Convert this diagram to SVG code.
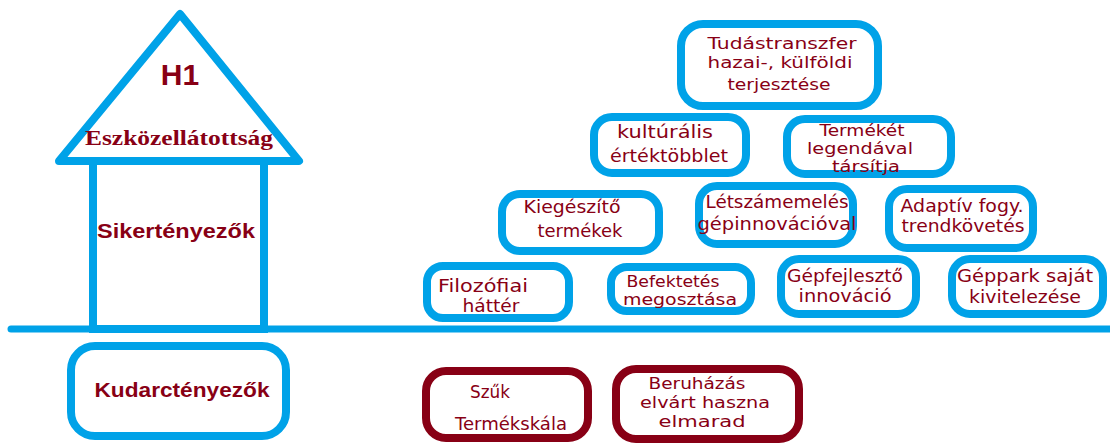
<svg xmlns="http://www.w3.org/2000/svg" width="1110" height="447" viewBox="0 0 1110 447">
<style>
.blue{fill:#ffffff;stroke:#00a2e8;stroke-width:8}
.red{fill:#ffffff;stroke:#880015;stroke-width:8}
.lbl{font-family:"DejaVu Sans",Verdana,sans-serif;fill:#880015;text-anchor:middle}
.big{font-family:"Liberation Sans",Arial,sans-serif;font-weight:bold;fill:#880015;text-anchor:middle}
.ser{font-family:"Liberation Serif","Times New Roman",serif;font-weight:bold;fill:#880015;text-anchor:middle}
</style>
<rect width="1110" height="447" fill="#ffffff"/>
<g id="ground">
<line x1="11" y1="329" x2="1110" y2="329" stroke="#00a2e8" stroke-width="7" stroke-linecap="round"/>
</g>
<g id="house">
<rect class="blue" x="93" y="161" width="171" height="168" fill="none"/>
<polygon class="blue" points="59,161 180,14 299,161" stroke-linejoin="round"/>
<text class="big" x="180" y="85" font-size="30">H1</text>
<text class="ser" x="179" y="145" font-size="21" textLength="188" lengthAdjust="spacingAndGlyphs">Eszközellátottság</text>
<text class="big" x="176" y="238" font-size="21" textLength="158" lengthAdjust="spacingAndGlyphs">Sikertényezők</text>
</g>
<g id="kudarc">
<rect class="blue" x="71" y="346" width="215" height="90" rx="24"/>
<text class="big" x="182" y="397" font-size="21" textLength="175" lengthAdjust="spacingAndGlyphs">Kudarctényezők</text>
</g>
<g id="tudastranszfer">
<rect class="blue" x="681" y="24" width="197" height="82" rx="22"/>
<text class="lbl" font-size="16" x="782" y="49" textLength="149" lengthAdjust="spacingAndGlyphs">Tudástranszfer</text>
<text class="lbl" font-size="16" x="780" y="68" textLength="145" lengthAdjust="spacingAndGlyphs">hazai-, külföldi</text>
<text class="lbl" font-size="16" x="779" y="90" textLength="103" lengthAdjust="spacingAndGlyphs">terjesztése</text>
</g>
<g id="kulturalis">
<rect class="blue" x="594" y="117" width="152" height="56" rx="18"/>
<text class="lbl" font-size="18" x="665" y="138" textLength="96" lengthAdjust="spacingAndGlyphs">kultúrális</text>
<text class="lbl" font-size="18" x="669" y="162" textLength="118" lengthAdjust="spacingAndGlyphs">értéktöbblet</text>
</g>
<g id="termeket">
<rect class="blue" x="787" y="119" width="164" height="55" rx="18"/>
<text class="lbl" font-size="15" x="862" y="136" textLength="85" lengthAdjust="spacingAndGlyphs">Termékét</text>
<text class="lbl" font-size="15" x="860" y="154" textLength="106" lengthAdjust="spacingAndGlyphs">legendával</text>
<text class="lbl" font-size="15" x="866" y="172" textLength="68" lengthAdjust="spacingAndGlyphs">társítja</text>
</g>
<g id="kiegeszito">
<rect class="blue" x="502" y="194" width="157" height="57" rx="18"/>
<text class="lbl" font-size="18" x="572" y="213" textLength="97" lengthAdjust="spacingAndGlyphs">Kiegészítő</text>
<text class="lbl" font-size="18" x="580" y="237" textLength="85" lengthAdjust="spacingAndGlyphs">termékek</text>
</g>
<g id="letszam">
<rect class="blue" x="699" y="186" width="154" height="58" rx="18"/>
<text class="lbl" font-size="17" x="777" y="208" textLength="143" lengthAdjust="spacingAndGlyphs">Létszámemelés</text>
<text class="lbl" font-size="17" x="777" y="230" textLength="159" lengthAdjust="spacingAndGlyphs">gépinnovációval</text>
</g>
<g id="adaptiv">
<rect class="blue" x="889" y="189" width="144" height="59" rx="18"/>
<text class="lbl" font-size="17" x="962" y="212" textLength="123" lengthAdjust="spacingAndGlyphs">Adaptív fogy.</text>
<text class="lbl" font-size="17" x="963" y="232" textLength="123" lengthAdjust="spacingAndGlyphs">trendkövetés</text>
</g>
<g id="filozofiai">
<rect class="blue" x="427" y="266" width="142" height="52" rx="16"/>
<text class="lbl" font-size="17" x="483" y="292" textLength="90" lengthAdjust="spacingAndGlyphs">Filozófiai</text>
<text class="lbl" font-size="17" x="491" y="312" textLength="57" lengthAdjust="spacingAndGlyphs">háttér</text>
</g>
<g id="befektetes">
<rect class="blue" x="611" y="267" width="140" height="44" rx="16"/>
<text class="lbl" font-size="15" x="673" y="287" textLength="93" lengthAdjust="spacingAndGlyphs">Befektetés</text>
<text class="lbl" font-size="15" x="680" y="305" textLength="114" lengthAdjust="spacingAndGlyphs">megosztása</text>
</g>
<g id="gepfejleszto">
<rect class="blue" x="781" y="259" width="135" height="55" rx="18"/>
<text class="lbl" font-size="17" x="845" y="282" textLength="116" lengthAdjust="spacingAndGlyphs">Gépfejlesztő</text>
<text class="lbl" font-size="17" x="845" y="302" textLength="93" lengthAdjust="spacingAndGlyphs">innováció</text>
</g>
<g id="geppark">
<rect class="blue" x="952" y="259" width="151" height="55" rx="18"/>
<text class="lbl" font-size="17" x="1025" y="282" textLength="136" lengthAdjust="spacingAndGlyphs">Géppark saját</text>
<text class="lbl" font-size="17" x="1025" y="303" textLength="112" lengthAdjust="spacingAndGlyphs">kivitelezése</text>
</g>
<g id="szuk">
<rect class="red" x="426" y="371" width="162" height="67" rx="20"/>
<text class="lbl" font-size="18" x="490" y="398" textLength="40" lengthAdjust="spacingAndGlyphs">Szűk</text>
<text class="lbl" font-size="18" x="511" y="430" textLength="112" lengthAdjust="spacingAndGlyphs">Termékskála</text>
</g>
<g id="beruhazas">
<rect class="red" x="616" y="369" width="183" height="70" rx="20"/>
<text class="lbl" font-size="16" x="697" y="389" textLength="97" lengthAdjust="spacingAndGlyphs">Beruházás</text>
<text class="lbl" font-size="16" x="705" y="408" textLength="130" lengthAdjust="spacingAndGlyphs">elvárt haszna</text>
<text class="lbl" font-size="16" x="702" y="427" textLength="87" lengthAdjust="spacingAndGlyphs">elmarad</text>
</g>
<g id="connectors"></g>
</svg>
